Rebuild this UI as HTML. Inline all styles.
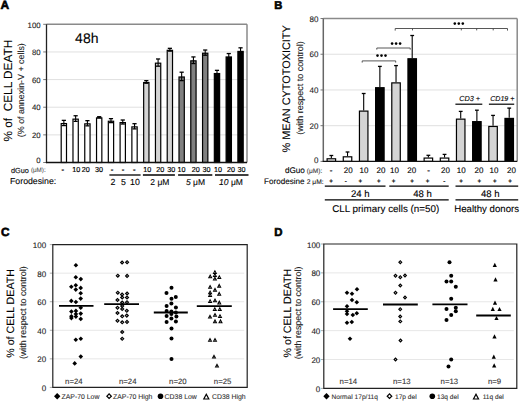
<!DOCTYPE html>
<html><head><meta charset="utf-8"><style>
html,body{margin:0;padding:0;background:#fff;width:520px;height:401px;overflow:hidden}
svg{display:block}
text{font-family:"Liberation Sans", sans-serif;text-rendering:geometricPrecision;}
</style></head><body>
<svg width="520" height="401" viewBox="0 0 520 401" font-family='"Liberation Sans", sans-serif'>
<rect width="520" height="401" fill="#fff"/>
<text x="0.50" y="8.80" font-size="12" text-anchor="start" fill="#000" font-weight="bold" stroke="#000" stroke-width="0.6">A</text>
<text x="274.20" y="8.80" font-size="11.2" text-anchor="start" fill="#000" font-weight="bold" stroke="#000" stroke-width="0.6">B</text>
<text x="1.00" y="236.20" font-size="11.8" text-anchor="start" fill="#000" font-weight="bold" stroke="#000" stroke-width="0.6">C</text>
<text x="274.30" y="236.00" font-size="11.4" text-anchor="start" fill="#000" font-weight="bold" stroke="#000" stroke-width="0.6">D</text>
<line x1="46.50" y1="134.86" x2="247.00" y2="134.86" stroke="#dcdcdc" stroke-width="0.9"/>
<line x1="46.50" y1="107.22" x2="247.00" y2="107.22" stroke="#dcdcdc" stroke-width="0.9"/>
<line x1="46.50" y1="79.58" x2="247.00" y2="79.58" stroke="#dcdcdc" stroke-width="0.9"/>
<line x1="46.50" y1="51.94" x2="247.00" y2="51.94" stroke="#dcdcdc" stroke-width="0.9"/>
<line x1="46.50" y1="24.30" x2="247.00" y2="24.30" stroke="#8a8a8a" stroke-width="1.5"/>
<line x1="247.00" y1="24.30" x2="247.00" y2="162.50" stroke="#8a8a8a" stroke-width="1.5"/>
<line x1="43.20" y1="162.50" x2="46.50" y2="162.50" stroke="#555" stroke-width="0.8"/>
<text x="40.60" y="163.30" font-size="7.8" text-anchor="end" fill="#222" stroke="#222" stroke-width="0.1">0</text>
<line x1="43.20" y1="134.86" x2="46.50" y2="134.86" stroke="#555" stroke-width="0.8"/>
<text x="40.60" y="138.06" font-size="7.8" text-anchor="end" fill="#222" stroke="#222" stroke-width="0.1">20</text>
<line x1="43.20" y1="107.22" x2="46.50" y2="107.22" stroke="#555" stroke-width="0.8"/>
<text x="40.60" y="110.42" font-size="7.8" text-anchor="end" fill="#222" stroke="#222" stroke-width="0.1">40</text>
<line x1="43.20" y1="79.58" x2="46.50" y2="79.58" stroke="#555" stroke-width="0.8"/>
<text x="40.60" y="82.78" font-size="7.8" text-anchor="end" fill="#222" stroke="#222" stroke-width="0.1">60</text>
<line x1="43.20" y1="51.94" x2="46.50" y2="51.94" stroke="#555" stroke-width="0.8"/>
<text x="40.60" y="55.14" font-size="7.8" text-anchor="end" fill="#222" stroke="#222" stroke-width="0.1">80</text>
<line x1="43.20" y1="24.30" x2="46.50" y2="24.30" stroke="#555" stroke-width="0.8"/>
<text x="40.60" y="27.50" font-size="7.8" text-anchor="end" fill="#222" stroke="#222" stroke-width="0.1">100</text>
<rect x="61.20" y="123.57" width="5.30" height="38.93" fill="#fff" stroke="#000" stroke-width="1.2"/>
<line x1="63.85" y1="120.37" x2="63.85" y2="125.57" stroke="#000" stroke-width="1.1"/>
<line x1="61.75" y1="120.37" x2="65.95" y2="120.37" stroke="#000" stroke-width="1.3"/>
<line x1="61.75" y1="125.57" x2="65.95" y2="125.57" stroke="#000" stroke-width="1.3"/>
<rect x="72.98" y="119.15" width="5.30" height="43.35" fill="#fff" stroke="#000" stroke-width="1.2"/>
<line x1="75.63" y1="115.75" x2="75.63" y2="121.35" stroke="#000" stroke-width="1.1"/>
<line x1="73.53" y1="115.75" x2="77.73" y2="115.75" stroke="#000" stroke-width="1.3"/>
<line x1="73.53" y1="121.35" x2="77.73" y2="121.35" stroke="#000" stroke-width="1.3"/>
<rect x="84.76" y="123.85" width="5.30" height="38.65" fill="#fff" stroke="#000" stroke-width="1.2"/>
<line x1="87.41" y1="120.65" x2="87.41" y2="125.85" stroke="#000" stroke-width="1.1"/>
<line x1="85.31" y1="120.65" x2="89.51" y2="120.65" stroke="#000" stroke-width="1.3"/>
<line x1="85.31" y1="125.85" x2="89.51" y2="125.85" stroke="#000" stroke-width="1.3"/>
<rect x="96.54" y="117.91" width="5.30" height="44.59" fill="#fff" stroke="#000" stroke-width="1.2"/>
<line x1="99.19" y1="116.71" x2="99.19" y2="117.91" stroke="#000" stroke-width="1.1"/>
<line x1="97.09" y1="116.71" x2="101.29" y2="116.71" stroke="#000" stroke-width="1.3"/>
<line x1="97.09" y1="117.91" x2="101.29" y2="117.91" stroke="#000" stroke-width="1.3"/>
<rect x="108.32" y="121.23" width="5.30" height="41.27" fill="#fff" stroke="#000" stroke-width="1.2"/>
<line x1="110.97" y1="118.63" x2="110.97" y2="122.63" stroke="#000" stroke-width="1.1"/>
<line x1="108.87" y1="118.63" x2="113.07" y2="118.63" stroke="#000" stroke-width="1.3"/>
<line x1="108.87" y1="122.63" x2="113.07" y2="122.63" stroke="#000" stroke-width="1.3"/>
<rect x="120.10" y="122.61" width="5.30" height="39.89" fill="#fff" stroke="#000" stroke-width="1.2"/>
<line x1="122.75" y1="120.01" x2="122.75" y2="124.01" stroke="#000" stroke-width="1.1"/>
<line x1="120.65" y1="120.01" x2="124.85" y2="120.01" stroke="#000" stroke-width="1.3"/>
<line x1="120.65" y1="124.01" x2="124.85" y2="124.01" stroke="#000" stroke-width="1.3"/>
<rect x="131.88" y="126.89" width="5.30" height="35.61" fill="#fff" stroke="#000" stroke-width="1.2"/>
<line x1="134.53" y1="123.69" x2="134.53" y2="128.89" stroke="#000" stroke-width="1.1"/>
<line x1="132.43" y1="123.69" x2="136.63" y2="123.69" stroke="#000" stroke-width="1.3"/>
<line x1="132.43" y1="128.89" x2="136.63" y2="128.89" stroke="#000" stroke-width="1.3"/>
<rect x="143.66" y="82.53" width="5.30" height="79.97" fill="#d4d4d4" stroke="#000" stroke-width="1.2"/>
<line x1="146.31" y1="80.63" x2="146.31" y2="83.23" stroke="#000" stroke-width="1.1"/>
<line x1="144.21" y1="80.63" x2="148.41" y2="80.63" stroke="#000" stroke-width="1.3"/>
<line x1="144.21" y1="83.23" x2="148.41" y2="83.23" stroke="#000" stroke-width="1.3"/>
<rect x="155.44" y="63.18" width="5.30" height="99.32" fill="#d4d4d4" stroke="#000" stroke-width="1.2"/>
<line x1="158.09" y1="58.98" x2="158.09" y2="66.18" stroke="#000" stroke-width="1.1"/>
<line x1="155.99" y1="58.98" x2="160.19" y2="58.98" stroke="#000" stroke-width="1.3"/>
<line x1="155.99" y1="66.18" x2="160.19" y2="66.18" stroke="#000" stroke-width="1.3"/>
<rect x="167.22" y="50.33" width="5.30" height="112.17" fill="#d4d4d4" stroke="#000" stroke-width="1.2"/>
<line x1="169.87" y1="48.33" x2="169.87" y2="51.13" stroke="#000" stroke-width="1.1"/>
<line x1="167.77" y1="48.33" x2="171.97" y2="48.33" stroke="#000" stroke-width="1.3"/>
<line x1="167.77" y1="51.13" x2="171.97" y2="51.13" stroke="#000" stroke-width="1.3"/>
<rect x="179.00" y="77.00" width="5.30" height="85.50" fill="#808080" stroke="#000" stroke-width="1.2"/>
<line x1="181.65" y1="72.20" x2="181.65" y2="80.60" stroke="#000" stroke-width="1.1"/>
<line x1="179.55" y1="72.20" x2="183.75" y2="72.20" stroke="#000" stroke-width="1.3"/>
<line x1="179.55" y1="80.60" x2="183.75" y2="80.60" stroke="#000" stroke-width="1.3"/>
<rect x="190.78" y="60.83" width="5.30" height="101.67" fill="#808080" stroke="#000" stroke-width="1.2"/>
<line x1="193.43" y1="56.93" x2="193.43" y2="63.53" stroke="#000" stroke-width="1.1"/>
<line x1="191.33" y1="56.93" x2="195.53" y2="56.93" stroke="#000" stroke-width="1.3"/>
<line x1="191.33" y1="63.53" x2="195.53" y2="63.53" stroke="#000" stroke-width="1.3"/>
<rect x="202.56" y="53.23" width="5.30" height="109.27" fill="#808080" stroke="#000" stroke-width="1.2"/>
<line x1="205.21" y1="50.03" x2="205.21" y2="55.23" stroke="#000" stroke-width="1.1"/>
<line x1="203.11" y1="50.03" x2="207.31" y2="50.03" stroke="#000" stroke-width="1.3"/>
<line x1="203.11" y1="55.23" x2="207.31" y2="55.23" stroke="#000" stroke-width="1.3"/>
<rect x="214.34" y="73.55" width="5.30" height="88.95" fill="#000" stroke="#000" stroke-width="1.2"/>
<line x1="216.99" y1="70.35" x2="216.99" y2="75.55" stroke="#000" stroke-width="1.1"/>
<line x1="214.89" y1="70.35" x2="219.09" y2="70.35" stroke="#000" stroke-width="1.3"/>
<line x1="214.89" y1="75.55" x2="219.09" y2="75.55" stroke="#000" stroke-width="1.3"/>
<rect x="226.12" y="56.96" width="5.30" height="105.54" fill="#000" stroke="#000" stroke-width="1.2"/>
<line x1="228.77" y1="53.56" x2="228.77" y2="59.16" stroke="#000" stroke-width="1.1"/>
<line x1="226.67" y1="53.56" x2="230.87" y2="53.56" stroke="#000" stroke-width="1.3"/>
<line x1="226.67" y1="59.16" x2="230.87" y2="59.16" stroke="#000" stroke-width="1.3"/>
<rect x="237.90" y="51.43" width="5.30" height="111.07" fill="#000" stroke="#000" stroke-width="1.2"/>
<line x1="240.55" y1="47.83" x2="240.55" y2="53.83" stroke="#000" stroke-width="1.1"/>
<line x1="238.45" y1="47.83" x2="242.65" y2="47.83" stroke="#000" stroke-width="1.3"/>
<line x1="238.45" y1="53.83" x2="242.65" y2="53.83" stroke="#000" stroke-width="1.3"/>
<line x1="46.50" y1="24.30" x2="46.50" y2="163.10" stroke="#222" stroke-width="1.3"/>
<line x1="45.90" y1="162.50" x2="247.00" y2="162.50" stroke="#111" stroke-width="1.3"/>
<text x="86.80" y="42.90" font-size="14" text-anchor="middle" fill="#000" stroke="#000" stroke-width="0.1">48h</text>
<text x="0.00" y="0.00" font-size="11.8" text-anchor="middle" fill="#000" transform="translate(12.20,90.65) rotate(-90)" stroke="#000" stroke-width="0.1">% of&#160; CELL DEATH</text>
<text x="0.00" y="0.00" font-size="8.9" text-anchor="middle" fill="#222" transform="translate(23.80,90.20) rotate(-90)" stroke="#222" stroke-width="0.1">(% of annexin-V + cells)</text>
<text x="11.00" y="172.50" font-size="7.3" text-anchor="start" fill="#000" stroke="#000" stroke-width="0.1">dGuo</text>
<text x="30.90" y="172.40" font-size="6.3" text-anchor="start" fill="#555" stroke="#555" stroke-width="0.1">(&#956;M):</text>
<text x="10.00" y="184.40" font-size="8.75" text-anchor="start" fill="#000" stroke="#000" stroke-width="0.1">Forodesine:</text>
<text x="62.80" y="171.80" font-size="7.6" text-anchor="middle" fill="#000" stroke="#000" stroke-width="0.35">-</text>
<text x="76.20" y="171.80" font-size="7.2" text-anchor="middle" fill="#000" stroke="#000" stroke-width="0.18">10</text>
<text x="85.70" y="171.80" font-size="7.2" text-anchor="middle" fill="#000" stroke="#000" stroke-width="0.18">20</text>
<text x="99.00" y="171.80" font-size="7.2" text-anchor="middle" fill="#000" stroke="#000" stroke-width="0.18">30</text>
<text x="111.90" y="171.80" font-size="7.6" text-anchor="middle" fill="#000" stroke="#000" stroke-width="0.35">-</text>
<text x="123.10" y="171.80" font-size="7.6" text-anchor="middle" fill="#000" stroke="#000" stroke-width="0.35">-</text>
<text x="134.20" y="171.80" font-size="7.6" text-anchor="middle" fill="#000" stroke="#000" stroke-width="0.35">-</text>
<text x="147.30" y="171.80" font-size="7.2" text-anchor="middle" fill="#000" stroke="#000" stroke-width="0.18">10</text>
<text x="160.20" y="171.80" font-size="7.2" text-anchor="middle" fill="#000" stroke="#000" stroke-width="0.18">20</text>
<text x="171.20" y="171.80" font-size="7.2" text-anchor="middle" fill="#000" stroke="#000" stroke-width="0.18">30</text>
<text x="181.60" y="171.80" font-size="7.2" text-anchor="middle" fill="#000" stroke="#000" stroke-width="0.18">10</text>
<text x="195.80" y="171.80" font-size="7.2" text-anchor="middle" fill="#000" stroke="#000" stroke-width="0.18">20</text>
<text x="206.50" y="171.80" font-size="7.2" text-anchor="middle" fill="#000" stroke="#000" stroke-width="0.18">30</text>
<text x="218.00" y="171.80" font-size="7.2" text-anchor="middle" fill="#000" stroke="#000" stroke-width="0.18">10</text>
<text x="231.00" y="171.80" font-size="7.2" text-anchor="middle" fill="#000" stroke="#000" stroke-width="0.18">20</text>
<text x="241.40" y="171.80" font-size="7.2" text-anchor="middle" fill="#000" stroke="#000" stroke-width="0.18">30</text>
<line x1="109.40" y1="175.00" x2="140.60" y2="175.00" stroke="#000" stroke-width="1.3"/>
<line x1="142.90" y1="175.00" x2="174.90" y2="175.00" stroke="#000" stroke-width="1.3"/>
<line x1="178.10" y1="175.00" x2="212.30" y2="175.00" stroke="#000" stroke-width="1.3"/>
<line x1="215.00" y1="175.00" x2="248.50" y2="175.00" stroke="#000" stroke-width="1.3"/>
<text x="112.90" y="184.60" font-size="8.8" text-anchor="middle" fill="#000" stroke="#000" stroke-width="0.1">2</text>
<text x="123.50" y="184.60" font-size="8.8" text-anchor="middle" fill="#000" stroke="#000" stroke-width="0.1">5</text>
<text x="135.00" y="184.60" font-size="8.8" text-anchor="middle" fill="#000" stroke="#000" stroke-width="0.1">10</text>
<text x="159.90" y="185.20" font-size="8.5" text-anchor="middle" fill="#000" stroke="#000" stroke-width="0.1">2 &#956;M</text>
<text x="195.50" y="185.20" font-size="8.5" text-anchor="middle" fill="#000" stroke="#000" stroke-width="0.1"><tspan font-style="italic">5</tspan> &#956;M</text>
<text x="231.00" y="185.20" font-size="8.5" text-anchor="middle" fill="#000" stroke="#000" stroke-width="0.1"><tspan font-style="italic">10</tspan> &#956;M</text>
<line x1="323.30" y1="125.68" x2="517.20" y2="125.68" stroke="#dcdcdc" stroke-width="0.9"/>
<line x1="323.30" y1="89.96" x2="517.20" y2="89.96" stroke="#dcdcdc" stroke-width="0.9"/>
<line x1="323.30" y1="54.24" x2="517.20" y2="54.24" stroke="#dcdcdc" stroke-width="0.9"/>
<line x1="323.30" y1="18.40" x2="517.20" y2="18.40" stroke="#8a8a8a" stroke-width="1.5"/>
<line x1="517.20" y1="18.40" x2="517.20" y2="161.40" stroke="#8a8a8a" stroke-width="1.5"/>
<line x1="320.50" y1="161.40" x2="323.30" y2="161.40" stroke="#555" stroke-width="0.8"/>
<text x="318.40" y="163.20" font-size="8" text-anchor="end" fill="#222" stroke="#222" stroke-width="0.1">0</text>
<line x1="320.50" y1="125.68" x2="323.30" y2="125.68" stroke="#555" stroke-width="0.8"/>
<text x="318.40" y="128.68" font-size="8" text-anchor="end" fill="#222" stroke="#222" stroke-width="0.1">20</text>
<line x1="320.50" y1="89.96" x2="323.30" y2="89.96" stroke="#555" stroke-width="0.8"/>
<text x="318.40" y="92.96" font-size="8" text-anchor="end" fill="#222" stroke="#222" stroke-width="0.1">40</text>
<line x1="320.50" y1="54.24" x2="323.30" y2="54.24" stroke="#555" stroke-width="0.8"/>
<text x="318.40" y="57.24" font-size="8" text-anchor="end" fill="#222" stroke="#222" stroke-width="0.1">60</text>
<line x1="320.50" y1="18.52" x2="323.30" y2="18.52" stroke="#555" stroke-width="0.8"/>
<text x="318.40" y="21.52" font-size="8" text-anchor="end" fill="#222" stroke="#222" stroke-width="0.1">80</text>
<line x1="331.35" y1="155.50" x2="331.35" y2="158.19" stroke="#000" stroke-width="1.1"/>
<line x1="329.45" y1="155.50" x2="333.25" y2="155.50" stroke="#000" stroke-width="1.3"/>
<rect x="327.10" y="158.79" width="8.50" height="2.61" fill="#fff" stroke="#000" stroke-width="1.2"/>
<line x1="347.52" y1="152.00" x2="347.52" y2="156.22" stroke="#000" stroke-width="1.1"/>
<line x1="345.62" y1="152.00" x2="349.42" y2="152.00" stroke="#000" stroke-width="1.3"/>
<rect x="343.27" y="156.82" width="8.50" height="4.58" fill="#fff" stroke="#000" stroke-width="1.2"/>
<line x1="363.69" y1="93.50" x2="363.69" y2="110.50" stroke="#000" stroke-width="1.1"/>
<line x1="361.79" y1="93.50" x2="365.59" y2="93.50" stroke="#000" stroke-width="1.3"/>
<rect x="359.44" y="111.10" width="8.50" height="50.30" fill="#d4d4d4" stroke="#000" stroke-width="1.2"/>
<line x1="379.86" y1="66.40" x2="379.86" y2="87.10" stroke="#000" stroke-width="1.1"/>
<line x1="377.96" y1="66.40" x2="381.76" y2="66.40" stroke="#000" stroke-width="1.3"/>
<rect x="375.61" y="87.70" width="8.50" height="73.70" fill="#000" stroke="#000" stroke-width="1.2"/>
<line x1="396.03" y1="65.60" x2="396.03" y2="82.28" stroke="#000" stroke-width="1.1"/>
<line x1="394.13" y1="65.60" x2="397.93" y2="65.60" stroke="#000" stroke-width="1.3"/>
<rect x="391.78" y="82.88" width="8.50" height="78.52" fill="#d4d4d4" stroke="#000" stroke-width="1.2"/>
<line x1="412.20" y1="35.50" x2="412.20" y2="58.17" stroke="#000" stroke-width="1.1"/>
<line x1="410.30" y1="35.50" x2="414.10" y2="35.50" stroke="#000" stroke-width="1.3"/>
<rect x="407.95" y="58.77" width="8.50" height="102.63" fill="#000" stroke="#000" stroke-width="1.2"/>
<line x1="428.37" y1="155.30" x2="428.37" y2="157.47" stroke="#000" stroke-width="1.1"/>
<line x1="426.47" y1="155.30" x2="430.27" y2="155.30" stroke="#000" stroke-width="1.3"/>
<rect x="424.12" y="158.07" width="8.50" height="3.33" fill="#fff" stroke="#000" stroke-width="1.2"/>
<line x1="444.54" y1="154.40" x2="444.54" y2="157.47" stroke="#000" stroke-width="1.1"/>
<line x1="442.64" y1="154.40" x2="446.44" y2="154.40" stroke="#000" stroke-width="1.3"/>
<rect x="440.29" y="158.07" width="8.50" height="3.33" fill="#fff" stroke="#000" stroke-width="1.2"/>
<line x1="460.71" y1="111.40" x2="460.71" y2="118.54" stroke="#000" stroke-width="1.1"/>
<line x1="458.81" y1="111.40" x2="462.61" y2="111.40" stroke="#000" stroke-width="1.3"/>
<rect x="456.46" y="119.14" width="8.50" height="42.26" fill="#d4d4d4" stroke="#000" stroke-width="1.2"/>
<line x1="476.88" y1="110.20" x2="476.88" y2="121.04" stroke="#000" stroke-width="1.1"/>
<line x1="474.98" y1="110.20" x2="478.78" y2="110.20" stroke="#000" stroke-width="1.3"/>
<rect x="472.63" y="121.64" width="8.50" height="39.76" fill="#000" stroke="#000" stroke-width="1.2"/>
<line x1="493.05" y1="115.40" x2="493.05" y2="125.86" stroke="#000" stroke-width="1.1"/>
<line x1="491.15" y1="115.40" x2="494.95" y2="115.40" stroke="#000" stroke-width="1.3"/>
<rect x="488.80" y="126.46" width="8.50" height="34.94" fill="#d4d4d4" stroke="#000" stroke-width="1.2"/>
<line x1="509.22" y1="108.10" x2="509.22" y2="117.82" stroke="#000" stroke-width="1.1"/>
<line x1="507.32" y1="108.10" x2="511.12" y2="108.10" stroke="#000" stroke-width="1.3"/>
<rect x="504.97" y="118.42" width="8.50" height="42.98" fill="#000" stroke="#000" stroke-width="1.2"/>
<line x1="323.30" y1="18.40" x2="323.30" y2="162.00" stroke="#666" stroke-width="1.5"/>
<line x1="322.70" y1="161.40" x2="517.20" y2="161.40" stroke="#111" stroke-width="1.3"/>
<path d="M362.2,62.6 V60.9 H395.7 V62.6" fill="none" stroke="#444" stroke-width="0.9"/>
<path d="M376.8,49.6 V48.0 H410.2 V49.6" fill="none" stroke="#444" stroke-width="0.9"/>
<path d="M395.2,30.6 V28.5 H507.5 V30.6 M412.5,28.5 V30.4 M461.3,28.5 V30.4 M476.7,28.5 V30.4 M493.2,28.5 V30.4" fill="none" stroke="#444" stroke-width="0.9"/>
<circle cx="377.50" cy="55.60" r="1.3" fill="#000" stroke="none" stroke-width="0"/>
<circle cx="381.50" cy="55.60" r="1.3" fill="#000" stroke="none" stroke-width="0"/>
<circle cx="385.50" cy="55.60" r="1.3" fill="#000" stroke="none" stroke-width="0"/>
<circle cx="392.10" cy="43.60" r="1.3" fill="#000" stroke="none" stroke-width="0"/>
<circle cx="396.10" cy="43.60" r="1.3" fill="#000" stroke="none" stroke-width="0"/>
<circle cx="400.10" cy="43.60" r="1.3" fill="#000" stroke="none" stroke-width="0"/>
<circle cx="454.80" cy="23.60" r="1.3" fill="#000" stroke="none" stroke-width="0"/>
<circle cx="458.80" cy="23.60" r="1.3" fill="#000" stroke="none" stroke-width="0"/>
<circle cx="462.80" cy="23.60" r="1.3" fill="#000" stroke="none" stroke-width="0"/>
<text x="469.60" y="101.20" font-size="7.3" text-anchor="middle" fill="#000" font-style="italic" stroke="#000" stroke-width="0.1">CD3 +</text>
<text x="502.30" y="101.20" font-size="7.1" text-anchor="middle" fill="#000" font-style="italic" stroke="#000" stroke-width="0.1">CD19 +</text>
<line x1="455.40" y1="104.20" x2="482.30" y2="104.20" stroke="#000" stroke-width="1.2"/>
<line x1="488.90" y1="104.20" x2="514.20" y2="104.20" stroke="#000" stroke-width="1.2"/>
<text x="0.00" y="0.00" font-size="10.9" text-anchor="middle" fill="#000" transform="translate(290.10,88.90) rotate(-90)" stroke="#000" stroke-width="0.1">% MEAN CYTOTOXICITY</text>
<text x="0.00" y="0.00" font-size="9.0" text-anchor="middle" fill="#222" transform="translate(303.20,88.10) rotate(-90)" stroke="#222" stroke-width="0.1">(with respect to control)</text>
<text x="284.90" y="172.80" font-size="8.2" text-anchor="start" fill="#000" stroke="#000" stroke-width="0.1">dGuo</text>
<text x="306.80" y="173.20" font-size="6.6" text-anchor="start" fill="#444" stroke="#444" stroke-width="0.1">(&#956;M):</text>
<text x="264.00" y="183.60" font-size="8.1" text-anchor="start" fill="#000" stroke="#000" stroke-width="0.1">Forodesine</text>
<text x="306.80" y="183.60" font-size="6.7" text-anchor="start" fill="#222" stroke="#222" stroke-width="0.1">2 &#956;M:</text>
<text x="331.20" y="172.60" font-size="8" text-anchor="middle" fill="#000" stroke="#000" stroke-width="0.35">-</text>
<text x="331.10" y="182.75" font-size="6.2" text-anchor="middle" fill="#000" stroke="#000" stroke-width="0.25">+</text>
<text x="348.20" y="172.60" font-size="8" text-anchor="middle" fill="#000" stroke="#000" stroke-width="0.1">20</text>
<text x="345.90" y="182.75" font-size="6.2" text-anchor="middle" fill="#000" stroke="#000" stroke-width="0.25">-</text>
<text x="364.00" y="172.60" font-size="8" text-anchor="middle" fill="#000" stroke="#000" stroke-width="0.1">10</text>
<text x="360.40" y="182.75" font-size="6.2" text-anchor="middle" fill="#000" stroke="#000" stroke-width="0.25">+</text>
<text x="381.00" y="172.60" font-size="8" text-anchor="middle" fill="#000" stroke="#000" stroke-width="0.1">20</text>
<text x="378.70" y="182.75" font-size="6.2" text-anchor="middle" fill="#000" stroke="#000" stroke-width="0.25">+</text>
<text x="394.50" y="172.60" font-size="8" text-anchor="middle" fill="#000" stroke="#000" stroke-width="0.1">10</text>
<text x="393.50" y="182.75" font-size="6.2" text-anchor="middle" fill="#000" stroke="#000" stroke-width="0.25">+</text>
<text x="411.80" y="172.60" font-size="8" text-anchor="middle" fill="#000" stroke="#000" stroke-width="0.1">20</text>
<text x="412.00" y="182.75" font-size="6.2" text-anchor="middle" fill="#000" stroke="#000" stroke-width="0.25">+</text>
<text x="428.70" y="172.60" font-size="8" text-anchor="middle" fill="#000" stroke="#000" stroke-width="0.35">-</text>
<text x="427.50" y="182.75" font-size="6.2" text-anchor="middle" fill="#000" stroke="#000" stroke-width="0.25">+</text>
<text x="445.50" y="172.60" font-size="8" text-anchor="middle" fill="#000" stroke="#000" stroke-width="0.1">20</text>
<text x="444.30" y="182.75" font-size="6.2" text-anchor="middle" fill="#000" stroke="#000" stroke-width="0.25">-</text>
<text x="461.20" y="172.60" font-size="8" text-anchor="middle" fill="#000" stroke="#000" stroke-width="0.1">10</text>
<text x="461.00" y="182.75" font-size="6.2" text-anchor="middle" fill="#000" stroke="#000" stroke-width="0.25">+</text>
<text x="479.00" y="172.60" font-size="8" text-anchor="middle" fill="#000" stroke="#000" stroke-width="0.1">20</text>
<text x="479.20" y="182.75" font-size="6.2" text-anchor="middle" fill="#000" stroke="#000" stroke-width="0.25">+</text>
<text x="494.00" y="172.60" font-size="8" text-anchor="middle" fill="#000" stroke="#000" stroke-width="0.1">10</text>
<text x="494.80" y="182.75" font-size="6.2" text-anchor="middle" fill="#000" stroke="#000" stroke-width="0.25">+</text>
<text x="511.50" y="172.60" font-size="8" text-anchor="middle" fill="#000" stroke="#000" stroke-width="0.1">20</text>
<text x="510.00" y="182.75" font-size="6.2" text-anchor="middle" fill="#000" stroke="#000" stroke-width="0.25">+</text>
<line x1="324.80" y1="186.20" x2="385.50" y2="186.20" stroke="#000" stroke-width="1.3"/>
<line x1="389.30" y1="186.20" x2="448.70" y2="186.20" stroke="#000" stroke-width="1.3"/>
<line x1="455.50" y1="186.20" x2="518.20" y2="186.20" stroke="#000" stroke-width="1.3"/>
<line x1="324.80" y1="199.80" x2="448.70" y2="199.80" stroke="#000" stroke-width="1.3"/>
<line x1="455.50" y1="199.80" x2="518.20" y2="199.80" stroke="#000" stroke-width="1.3"/>
<text x="360.30" y="196.50" font-size="9.6" text-anchor="middle" fill="#000" stroke="#000" stroke-width="0.1">24 h</text>
<text x="422.50" y="196.50" font-size="9.6" text-anchor="middle" fill="#000" stroke="#000" stroke-width="0.1">48 h</text>
<text x="490.30" y="196.50" font-size="9.6" text-anchor="middle" fill="#000" stroke="#000" stroke-width="0.1">48 h</text>
<text x="332.20" y="211.50" font-size="9.85" text-anchor="start" fill="#000" stroke="#000" stroke-width="0.1">CLL primary cells (n=50)</text>
<text x="454.30" y="211.50" font-size="9.65" text-anchor="start" fill="#000" stroke="#000" stroke-width="0.1">Healthy donors</text>
<line x1="52.80" y1="358.84" x2="244.20" y2="358.84" stroke="#e4e4e4" stroke-width="0.9"/>
<line x1="52.80" y1="330.28" x2="244.20" y2="330.28" stroke="#e4e4e4" stroke-width="0.9"/>
<line x1="52.80" y1="301.72" x2="244.20" y2="301.72" stroke="#e4e4e4" stroke-width="0.9"/>
<line x1="52.80" y1="273.16" x2="244.20" y2="273.16" stroke="#e4e4e4" stroke-width="0.9"/>
<line x1="49.80" y1="387.40" x2="52.80" y2="387.40" stroke="#888" stroke-width="0.7"/>
<text x="46.20" y="391.40" font-size="8" text-anchor="end" fill="#222" stroke="#222" stroke-width="0.1">0</text>
<line x1="49.80" y1="358.84" x2="52.80" y2="358.84" stroke="#888" stroke-width="0.7"/>
<text x="46.20" y="362.34" font-size="8" text-anchor="end" fill="#222" stroke="#222" stroke-width="0.1">20</text>
<line x1="49.80" y1="330.28" x2="52.80" y2="330.28" stroke="#888" stroke-width="0.7"/>
<text x="46.20" y="333.78" font-size="8" text-anchor="end" fill="#222" stroke="#222" stroke-width="0.1">40</text>
<line x1="49.80" y1="301.72" x2="52.80" y2="301.72" stroke="#888" stroke-width="0.7"/>
<text x="46.20" y="305.22" font-size="8" text-anchor="end" fill="#222" stroke="#222" stroke-width="0.1">60</text>
<line x1="49.80" y1="273.16" x2="52.80" y2="273.16" stroke="#888" stroke-width="0.7"/>
<text x="46.20" y="276.66" font-size="8" text-anchor="end" fill="#222" stroke="#222" stroke-width="0.1">80</text>
<line x1="49.80" y1="244.60" x2="52.80" y2="244.60" stroke="#888" stroke-width="0.7"/>
<text x="46.20" y="248.10" font-size="8" text-anchor="end" fill="#222" stroke="#222" stroke-width="0.1">100</text>
<path d="M52.80,244.60 H247.20 V387.40 H52.80 Z" fill="none" stroke="#222" stroke-width="1.2"/>
<path d="M75.90,262.90 L78.20,265.20 L75.90,267.50 L73.60,265.20 Z" fill="#000" stroke="none" stroke-width="0"/>
<path d="M75.80,274.90 L78.10,277.20 L75.80,279.50 L73.50,277.20 Z" fill="#000" stroke="none" stroke-width="0"/>
<path d="M80.80,276.80 L83.10,279.10 L80.80,281.40 L78.50,279.10 Z" fill="#000" stroke="none" stroke-width="0"/>
<path d="M75.80,283.00 L78.10,285.30 L75.80,287.60 L73.50,285.30 Z" fill="#000" stroke="none" stroke-width="0"/>
<path d="M71.30,284.50 L73.60,286.80 L71.30,289.10 L69.00,286.80 Z" fill="#000" stroke="none" stroke-width="0"/>
<path d="M80.70,285.60 L83.00,287.90 L80.70,290.20 L78.40,287.90 Z" fill="#000" stroke="none" stroke-width="0"/>
<path d="M75.80,287.30 L78.10,289.60 L75.80,291.90 L73.50,289.60 Z" fill="#000" stroke="none" stroke-width="0"/>
<path d="M80.70,291.00 L83.00,293.30 L80.70,295.60 L78.40,293.30 Z" fill="#000" stroke="none" stroke-width="0"/>
<path d="M80.70,296.30 L83.00,298.60 L80.70,300.90 L78.40,298.60 Z" fill="#000" stroke="none" stroke-width="0"/>
<path d="M71.30,298.60 L73.60,300.90 L71.30,303.20 L69.00,300.90 Z" fill="#000" stroke="none" stroke-width="0"/>
<path d="M75.90,299.70 L78.20,302.00 L75.90,304.30 L73.60,302.00 Z" fill="#000" stroke="none" stroke-width="0"/>
<path d="M80.75,305.50 L83.05,307.80 L80.75,310.10 L78.45,307.80 Z" fill="#000" stroke="none" stroke-width="0"/>
<path d="M71.40,309.30 L73.70,311.60 L71.40,313.90 L69.10,311.60 Z" fill="#000" stroke="none" stroke-width="0"/>
<path d="M75.90,308.60 L78.20,310.90 L75.90,313.20 L73.60,310.90 Z" fill="#000" stroke="none" stroke-width="0"/>
<path d="M75.90,311.70 L78.20,314.00 L75.90,316.30 L73.60,314.00 Z" fill="#000" stroke="none" stroke-width="0"/>
<path d="M75.90,314.30 L78.20,316.60 L75.90,318.90 L73.60,316.60 Z" fill="#000" stroke="none" stroke-width="0"/>
<path d="M80.75,311.30 L83.05,313.60 L80.75,315.90 L78.45,313.60 Z" fill="#000" stroke="none" stroke-width="0"/>
<path d="M71.40,314.00 L73.70,316.30 L71.40,318.60 L69.10,316.30 Z" fill="#000" stroke="none" stroke-width="0"/>
<path d="M71.40,315.80 L73.70,318.10 L71.40,320.40 L69.10,318.10 Z" fill="#000" stroke="none" stroke-width="0"/>
<path d="M80.75,316.60 L83.05,318.90 L80.75,321.20 L78.45,318.90 Z" fill="#000" stroke="none" stroke-width="0"/>
<path d="M75.80,337.40 L78.10,339.70 L75.80,342.00 L73.50,339.70 Z" fill="#000" stroke="none" stroke-width="0"/>
<path d="M80.80,336.40 L83.10,338.70 L80.80,341.00 L78.50,338.70 Z" fill="#000" stroke="none" stroke-width="0"/>
<path d="M80.80,354.30 L83.10,356.60 L80.80,358.90 L78.50,356.60 Z" fill="#000" stroke="none" stroke-width="0"/>
<path d="M74.70,361.10 L77.00,363.40 L74.70,365.70 L72.40,363.40 Z" fill="#000" stroke="none" stroke-width="0"/>
<path d="M122.10,260.20 L124.40,262.50 L122.10,264.80 L119.80,262.50 Z" fill="#000" stroke="none" stroke-width="0"/>
<path d="M122.10,261.90 L122.70,262.50 L122.10,263.10 L121.50,262.50 Z" fill="#fff" stroke="none" stroke-width="0"/>
<path d="M127.10,259.90 L129.40,262.20 L127.10,264.50 L124.80,262.20 Z" fill="#000" stroke="none" stroke-width="0"/>
<path d="M127.10,261.60 L127.70,262.20 L127.10,262.80 L126.50,262.20 Z" fill="#fff" stroke="none" stroke-width="0"/>
<path d="M117.80,273.40 L120.10,275.70 L117.80,278.00 L115.50,275.70 Z" fill="#000" stroke="none" stroke-width="0"/>
<path d="M117.80,275.10 L118.40,275.70 L117.80,276.30 L117.20,275.70 Z" fill="#fff" stroke="none" stroke-width="0"/>
<path d="M127.10,273.60 L129.40,275.90 L127.10,278.20 L124.80,275.90 Z" fill="#000" stroke="none" stroke-width="0"/>
<path d="M127.10,275.30 L127.70,275.90 L127.10,276.50 L126.50,275.90 Z" fill="#fff" stroke="none" stroke-width="0"/>
<path d="M117.80,290.40 L120.10,292.70 L117.80,295.00 L115.50,292.70 Z" fill="#000" stroke="none" stroke-width="0"/>
<path d="M117.80,292.10 L118.40,292.70 L117.80,293.30 L117.20,292.70 Z" fill="#fff" stroke="none" stroke-width="0"/>
<path d="M122.10,292.30 L124.40,294.60 L122.10,296.90 L119.80,294.60 Z" fill="#000" stroke="none" stroke-width="0"/>
<path d="M122.10,294.00 L122.70,294.60 L122.10,295.20 L121.50,294.60 Z" fill="#fff" stroke="none" stroke-width="0"/>
<path d="M127.10,291.20 L129.40,293.50 L127.10,295.80 L124.80,293.50 Z" fill="#000" stroke="none" stroke-width="0"/>
<path d="M127.10,292.90 L127.70,293.50 L127.10,294.10 L126.50,293.50 Z" fill="#fff" stroke="none" stroke-width="0"/>
<path d="M122.20,295.20 L124.50,297.50 L122.20,299.80 L119.90,297.50 Z" fill="#000" stroke="none" stroke-width="0"/>
<path d="M122.20,296.90 L122.80,297.50 L122.20,298.10 L121.60,297.50 Z" fill="#fff" stroke="none" stroke-width="0"/>
<path d="M127.00,295.20 L129.30,297.50 L127.00,299.80 L124.70,297.50 Z" fill="#000" stroke="none" stroke-width="0"/>
<path d="M127.00,296.90 L127.60,297.50 L127.00,298.10 L126.40,297.50 Z" fill="#fff" stroke="none" stroke-width="0"/>
<path d="M117.50,297.70 L119.80,300.00 L117.50,302.30 L115.20,300.00 Z" fill="#000" stroke="none" stroke-width="0"/>
<path d="M117.50,299.40 L118.10,300.00 L117.50,300.60 L116.90,300.00 Z" fill="#fff" stroke="none" stroke-width="0"/>
<path d="M122.20,300.20 L124.50,302.50 L122.20,304.80 L119.90,302.50 Z" fill="#000" stroke="none" stroke-width="0"/>
<path d="M122.20,301.90 L122.80,302.50 L122.20,303.10 L121.60,302.50 Z" fill="#fff" stroke="none" stroke-width="0"/>
<path d="M127.00,299.90 L129.30,302.20 L127.00,304.50 L124.70,302.20 Z" fill="#000" stroke="none" stroke-width="0"/>
<path d="M127.00,301.60 L127.60,302.20 L127.00,302.80 L126.40,302.20 Z" fill="#fff" stroke="none" stroke-width="0"/>
<path d="M122.20,303.70 L124.50,306.00 L122.20,308.30 L119.90,306.00 Z" fill="#000" stroke="none" stroke-width="0"/>
<path d="M122.20,305.40 L122.80,306.00 L122.20,306.60 L121.60,306.00 Z" fill="#fff" stroke="none" stroke-width="0"/>
<path d="M117.50,305.50 L119.80,307.80 L117.50,310.10 L115.20,307.80 Z" fill="#000" stroke="none" stroke-width="0"/>
<path d="M117.50,307.20 L118.10,307.80 L117.50,308.40 L116.90,307.80 Z" fill="#fff" stroke="none" stroke-width="0"/>
<path d="M122.20,306.70 L124.50,309.00 L122.20,311.30 L119.90,309.00 Z" fill="#000" stroke="none" stroke-width="0"/>
<path d="M122.20,308.40 L122.80,309.00 L122.20,309.60 L121.60,309.00 Z" fill="#fff" stroke="none" stroke-width="0"/>
<path d="M126.80,308.50 L129.10,310.80 L126.80,313.10 L124.50,310.80 Z" fill="#000" stroke="none" stroke-width="0"/>
<path d="M126.80,310.20 L127.40,310.80 L126.80,311.40 L126.20,310.80 Z" fill="#fff" stroke="none" stroke-width="0"/>
<path d="M117.50,310.70 L119.80,313.00 L117.50,315.30 L115.20,313.00 Z" fill="#000" stroke="none" stroke-width="0"/>
<path d="M117.50,312.40 L118.10,313.00 L117.50,313.60 L116.90,313.00 Z" fill="#fff" stroke="none" stroke-width="0"/>
<path d="M122.20,314.00 L124.50,316.30 L122.20,318.60 L119.90,316.30 Z" fill="#000" stroke="none" stroke-width="0"/>
<path d="M122.20,315.70 L122.80,316.30 L122.20,316.90 L121.60,316.30 Z" fill="#fff" stroke="none" stroke-width="0"/>
<path d="M126.80,313.30 L129.10,315.60 L126.80,317.90 L124.50,315.60 Z" fill="#000" stroke="none" stroke-width="0"/>
<path d="M126.80,315.00 L127.40,315.60 L126.80,316.20 L126.20,315.60 Z" fill="#fff" stroke="none" stroke-width="0"/>
<path d="M117.50,318.50 L119.80,320.80 L117.50,323.10 L115.20,320.80 Z" fill="#000" stroke="none" stroke-width="0"/>
<path d="M117.50,320.20 L118.10,320.80 L117.50,321.40 L116.90,320.80 Z" fill="#fff" stroke="none" stroke-width="0"/>
<path d="M122.20,320.00 L124.50,322.30 L122.20,324.60 L119.90,322.30 Z" fill="#000" stroke="none" stroke-width="0"/>
<path d="M122.20,321.70 L122.80,322.30 L122.20,322.90 L121.60,322.30 Z" fill="#fff" stroke="none" stroke-width="0"/>
<path d="M127.00,319.60 L129.30,321.90 L127.00,324.20 L124.70,321.90 Z" fill="#000" stroke="none" stroke-width="0"/>
<path d="M127.00,321.30 L127.60,321.90 L127.00,322.50 L126.40,321.90 Z" fill="#fff" stroke="none" stroke-width="0"/>
<path d="M122.20,329.70 L124.50,332.00 L122.20,334.30 L119.90,332.00 Z" fill="#000" stroke="none" stroke-width="0"/>
<path d="M122.20,331.40 L122.80,332.00 L122.20,332.60 L121.60,332.00 Z" fill="#fff" stroke="none" stroke-width="0"/>
<path d="M122.20,336.50 L124.50,338.80 L122.20,341.10 L119.90,338.80 Z" fill="#000" stroke="none" stroke-width="0"/>
<path d="M122.20,338.20 L122.80,338.80 L122.20,339.40 L121.60,338.80 Z" fill="#fff" stroke="none" stroke-width="0"/>
<circle cx="171.50" cy="287.80" r="2.0" fill="#000" stroke="none" stroke-width="0"/>
<circle cx="166.50" cy="293.00" r="2.0" fill="#000" stroke="none" stroke-width="0"/>
<circle cx="175.80" cy="297.00" r="2.0" fill="#000" stroke="none" stroke-width="0"/>
<circle cx="171.50" cy="298.80" r="2.0" fill="#000" stroke="none" stroke-width="0"/>
<circle cx="171.40" cy="303.60" r="2.0" fill="#000" stroke="none" stroke-width="0"/>
<circle cx="166.60" cy="306.10" r="2.0" fill="#000" stroke="none" stroke-width="0"/>
<circle cx="175.90" cy="307.50" r="2.0" fill="#000" stroke="none" stroke-width="0"/>
<circle cx="166.60" cy="310.90" r="2.0" fill="#000" stroke="none" stroke-width="0"/>
<circle cx="171.40" cy="311.60" r="2.0" fill="#000" stroke="none" stroke-width="0"/>
<circle cx="171.40" cy="314.00" r="2.0" fill="#000" stroke="none" stroke-width="0"/>
<circle cx="175.90" cy="312.40" r="2.0" fill="#000" stroke="none" stroke-width="0"/>
<circle cx="166.60" cy="316.10" r="2.0" fill="#000" stroke="none" stroke-width="0"/>
<circle cx="176.40" cy="316.60" r="2.0" fill="#000" stroke="none" stroke-width="0"/>
<circle cx="171.40" cy="318.60" r="2.0" fill="#000" stroke="none" stroke-width="0"/>
<circle cx="166.60" cy="322.00" r="2.0" fill="#000" stroke="none" stroke-width="0"/>
<circle cx="175.90" cy="321.60" r="2.0" fill="#000" stroke="none" stroke-width="0"/>
<circle cx="171.50" cy="328.50" r="2.0" fill="#000" stroke="none" stroke-width="0"/>
<circle cx="171.50" cy="338.50" r="2.0" fill="#000" stroke="none" stroke-width="0"/>
<circle cx="171.50" cy="359.00" r="2.0" fill="#000" stroke="none" stroke-width="0"/>
<path d="M214.90,269.63 L217.20,274.07 L212.60,274.07 Z" fill="#000" stroke="none" stroke-width="0"/>
<path d="M214.90,272.03 L215.45,273.02 L214.35,273.02 Z" fill="#fff" stroke="none" stroke-width="0"/>
<path d="M214.90,272.63 L217.20,277.07 L212.60,277.07 Z" fill="#000" stroke="none" stroke-width="0"/>
<path d="M214.90,275.03 L215.45,276.02 L214.35,276.02 Z" fill="#fff" stroke="none" stroke-width="0"/>
<path d="M214.90,276.13 L217.20,280.57 L212.60,280.57 Z" fill="#000" stroke="none" stroke-width="0"/>
<path d="M214.90,278.53 L215.45,279.52 L214.35,279.52 Z" fill="#fff" stroke="none" stroke-width="0"/>
<path d="M210.20,273.93 L212.50,278.37 L207.90,278.37 Z" fill="#000" stroke="none" stroke-width="0"/>
<path d="M210.20,276.33 L210.75,277.32 L209.65,277.32 Z" fill="#fff" stroke="none" stroke-width="0"/>
<path d="M219.30,274.63 L221.60,279.07 L217.00,279.07 Z" fill="#000" stroke="none" stroke-width="0"/>
<path d="M219.30,277.03 L219.85,278.02 L218.75,278.02 Z" fill="#fff" stroke="none" stroke-width="0"/>
<path d="M219.20,283.23 L221.50,287.67 L216.90,287.67 Z" fill="#000" stroke="none" stroke-width="0"/>
<path d="M219.20,285.63 L219.75,286.62 L218.65,286.62 Z" fill="#fff" stroke="none" stroke-width="0"/>
<path d="M210.10,284.43 L212.40,288.87 L207.80,288.87 Z" fill="#000" stroke="none" stroke-width="0"/>
<path d="M210.10,286.83 L210.65,287.82 L209.55,287.82 Z" fill="#fff" stroke="none" stroke-width="0"/>
<path d="M215.00,287.33 L217.30,291.77 L212.70,291.77 Z" fill="#000" stroke="none" stroke-width="0"/>
<path d="M215.00,289.73 L215.55,290.72 L214.45,290.72 Z" fill="#fff" stroke="none" stroke-width="0"/>
<path d="M210.10,289.93 L212.40,294.37 L207.80,294.37 Z" fill="#000" stroke="none" stroke-width="0"/>
<path d="M210.10,292.33 L210.65,293.32 L209.55,293.32 Z" fill="#fff" stroke="none" stroke-width="0"/>
<path d="M210.10,292.63 L212.40,297.07 L207.80,297.07 Z" fill="#000" stroke="none" stroke-width="0"/>
<path d="M210.10,295.03 L210.65,296.02 L209.55,296.02 Z" fill="#fff" stroke="none" stroke-width="0"/>
<path d="M219.20,291.33 L221.50,295.77 L216.90,295.77 Z" fill="#000" stroke="none" stroke-width="0"/>
<path d="M219.20,293.73 L219.75,294.72 L218.65,294.72 Z" fill="#fff" stroke="none" stroke-width="0"/>
<path d="M210.10,298.63 L212.40,303.07 L207.80,303.07 Z" fill="#000" stroke="none" stroke-width="0"/>
<path d="M210.10,301.03 L210.65,302.02 L209.55,302.02 Z" fill="#fff" stroke="none" stroke-width="0"/>
<path d="M215.00,297.93 L217.30,302.37 L212.70,302.37 Z" fill="#000" stroke="none" stroke-width="0"/>
<path d="M215.00,300.33 L215.55,301.32 L214.45,301.32 Z" fill="#fff" stroke="none" stroke-width="0"/>
<path d="M219.30,300.03 L221.60,304.47 L217.00,304.47 Z" fill="#000" stroke="none" stroke-width="0"/>
<path d="M219.30,302.43 L219.85,303.42 L218.75,303.42 Z" fill="#fff" stroke="none" stroke-width="0"/>
<path d="M214.80,306.63 L217.10,311.07 L212.50,311.07 Z" fill="#000" stroke="none" stroke-width="0"/>
<path d="M214.80,309.03 L215.35,310.02 L214.25,310.02 Z" fill="#fff" stroke="none" stroke-width="0"/>
<path d="M219.80,306.63 L222.10,311.07 L217.50,311.07 Z" fill="#000" stroke="none" stroke-width="0"/>
<path d="M219.80,309.03 L220.35,310.02 L219.25,310.02 Z" fill="#fff" stroke="none" stroke-width="0"/>
<path d="M210.00,314.13 L212.30,318.57 L207.70,318.57 Z" fill="#000" stroke="none" stroke-width="0"/>
<path d="M210.00,316.53 L210.55,317.52 L209.45,317.52 Z" fill="#fff" stroke="none" stroke-width="0"/>
<path d="M215.00,312.43 L217.30,316.87 L212.70,316.87 Z" fill="#000" stroke="none" stroke-width="0"/>
<path d="M215.00,314.83 L215.55,315.82 L214.45,315.82 Z" fill="#fff" stroke="none" stroke-width="0"/>
<path d="M220.00,313.63 L222.30,318.07 L217.70,318.07 Z" fill="#000" stroke="none" stroke-width="0"/>
<path d="M220.00,316.03 L220.55,317.02 L219.45,317.02 Z" fill="#fff" stroke="none" stroke-width="0"/>
<path d="M215.00,318.83 L217.30,323.27 L212.70,323.27 Z" fill="#000" stroke="none" stroke-width="0"/>
<path d="M215.00,321.23 L215.55,322.22 L214.45,322.22 Z" fill="#fff" stroke="none" stroke-width="0"/>
<path d="M220.50,318.83 L222.80,323.27 L218.20,323.27 Z" fill="#000" stroke="none" stroke-width="0"/>
<path d="M220.50,321.23 L221.05,322.22 L219.95,322.22 Z" fill="#fff" stroke="none" stroke-width="0"/>
<path d="M210.00,337.43 L212.30,341.87 L207.70,341.87 Z" fill="#000" stroke="none" stroke-width="0"/>
<path d="M210.00,339.83 L210.55,340.82 L209.45,340.82 Z" fill="#fff" stroke="none" stroke-width="0"/>
<path d="M215.00,337.43 L217.30,341.87 L212.70,341.87 Z" fill="#000" stroke="none" stroke-width="0"/>
<path d="M215.00,339.83 L215.55,340.82 L214.45,340.82 Z" fill="#fff" stroke="none" stroke-width="0"/>
<path d="M214.00,354.13 L216.30,358.57 L211.70,358.57 Z" fill="#000" stroke="none" stroke-width="0"/>
<path d="M214.00,356.53 L214.55,357.52 L213.45,357.52 Z" fill="#fff" stroke="none" stroke-width="0"/>
<path d="M217.00,363.13 L219.30,367.57 L214.70,367.57 Z" fill="#000" stroke="none" stroke-width="0"/>
<path d="M217.00,365.53 L217.55,366.52 L216.45,366.52 Z" fill="#fff" stroke="none" stroke-width="0"/>
<line x1="59.00" y1="305.90" x2="93.50" y2="305.90" stroke="#000" stroke-width="1.8"/>
<line x1="104.20" y1="304.20" x2="139.00" y2="304.20" stroke="#000" stroke-width="1.8"/>
<line x1="153.80" y1="312.50" x2="187.80" y2="312.50" stroke="#000" stroke-width="1.8"/>
<line x1="196.80" y1="306.20" x2="231.80" y2="306.20" stroke="#000" stroke-width="1.8"/>
<text x="73.90" y="383.80" font-size="7.8" text-anchor="middle" fill="#333" stroke="#333" stroke-width="0.1">n=24</text>
<text x="127.70" y="383.80" font-size="7.8" text-anchor="middle" fill="#333" stroke="#333" stroke-width="0.1">n=24</text>
<text x="177.90" y="383.80" font-size="7.8" text-anchor="middle" fill="#333" stroke="#333" stroke-width="0.1">n=20</text>
<text x="222.60" y="383.80" font-size="7.8" text-anchor="middle" fill="#333" stroke="#333" stroke-width="0.1">n=25</text>
<text x="0.00" y="0.00" font-size="10.63" text-anchor="middle" fill="#000" transform="translate(13.70,313.45) rotate(-90)" stroke="#000" stroke-width="0.1">% of CELL DEATH</text>
<text x="0.00" y="0.00" font-size="8.94" text-anchor="middle" fill="#222" transform="translate(26.20,312.70) rotate(-90)" stroke="#222" stroke-width="0.1">(with respect to control)</text>
<path d="M57.20,393.00 L60.40,396.20 L57.20,399.40 L54.00,396.20 Z" fill="#000" stroke="none" stroke-width="0"/>
<text x="61.50" y="398.60" font-size="6.9" text-anchor="start" fill="#333" stroke="#333" stroke-width="0.1">ZAP-70 Low</text>
<path d="M109.10,393.10 L112.20,396.20 L109.10,399.30 L106.00,396.20 Z" fill="#000" stroke="none" stroke-width="0"/>
<path d="M109.10,394.80 L110.50,396.20 L109.10,397.60 L107.70,396.20 Z" fill="#fff" stroke="none" stroke-width="0"/>
<text x="113.00" y="398.60" font-size="6.9" text-anchor="start" fill="#333" stroke="#333" stroke-width="0.1">ZAP-70 High</text>
<circle cx="160.50" cy="396.20" r="2.8" fill="#000" stroke="none" stroke-width="0"/>
<text x="164.60" y="398.60" font-size="6.9" text-anchor="start" fill="#333" stroke="#333" stroke-width="0.1">CD38 Low</text>
<path d="M206.30,392.95 L209.80,399.55 L202.80,399.55 Z" fill="#000" stroke="none" stroke-width="0"/>
<path d="M206.30,395.56 L207.88,398.39 L204.73,398.39 Z" fill="#fff" stroke="none" stroke-width="0"/>
<text x="212.00" y="398.60" font-size="6.9" text-anchor="start" fill="#333" stroke="#333" stroke-width="0.1">CD38 High</text>
<line x1="323.80" y1="359.52" x2="513.80" y2="359.52" stroke="#e4e4e4" stroke-width="0.9"/>
<line x1="323.80" y1="330.64" x2="513.80" y2="330.64" stroke="#e4e4e4" stroke-width="0.9"/>
<line x1="323.80" y1="301.76" x2="513.80" y2="301.76" stroke="#e4e4e4" stroke-width="0.9"/>
<line x1="323.80" y1="272.88" x2="513.80" y2="272.88" stroke="#e4e4e4" stroke-width="0.9"/>
<line x1="320.80" y1="388.40" x2="323.80" y2="388.40" stroke="#888" stroke-width="0.7"/>
<text x="320.30" y="392.40" font-size="8" text-anchor="end" fill="#222" stroke="#222" stroke-width="0.1">0</text>
<line x1="320.80" y1="359.52" x2="323.80" y2="359.52" stroke="#888" stroke-width="0.7"/>
<text x="320.30" y="363.02" font-size="8" text-anchor="end" fill="#222" stroke="#222" stroke-width="0.1">20</text>
<line x1="320.80" y1="330.64" x2="323.80" y2="330.64" stroke="#888" stroke-width="0.7"/>
<text x="320.30" y="334.14" font-size="8" text-anchor="end" fill="#222" stroke="#222" stroke-width="0.1">40</text>
<line x1="320.80" y1="301.76" x2="323.80" y2="301.76" stroke="#888" stroke-width="0.7"/>
<text x="320.30" y="305.26" font-size="8" text-anchor="end" fill="#222" stroke="#222" stroke-width="0.1">60</text>
<line x1="320.80" y1="272.88" x2="323.80" y2="272.88" stroke="#888" stroke-width="0.7"/>
<text x="320.30" y="276.38" font-size="8" text-anchor="end" fill="#222" stroke="#222" stroke-width="0.1">80</text>
<line x1="320.80" y1="244.00" x2="323.80" y2="244.00" stroke="#888" stroke-width="0.7"/>
<text x="320.30" y="247.50" font-size="8" text-anchor="end" fill="#222" stroke="#222" stroke-width="0.1">100</text>
<path d="M323.80,244.00 H516.80 V388.40 H323.80 Z" fill="none" stroke="#222" stroke-width="1.2"/>
<path d="M357.00,286.90 L359.30,289.20 L357.00,291.50 L354.70,289.20 Z" fill="#000" stroke="none" stroke-width="0"/>
<path d="M347.00,290.50 L349.30,292.80 L347.00,295.10 L344.70,292.80 Z" fill="#000" stroke="none" stroke-width="0"/>
<path d="M352.00,291.50 L354.30,293.80 L352.00,296.10 L349.70,293.80 Z" fill="#000" stroke="none" stroke-width="0"/>
<path d="M352.00,297.70 L354.30,300.00 L352.00,302.30 L349.70,300.00 Z" fill="#000" stroke="none" stroke-width="0"/>
<path d="M356.80,299.90 L359.10,302.20 L356.80,304.50 L354.50,302.20 Z" fill="#000" stroke="none" stroke-width="0"/>
<path d="M347.00,303.90 L349.30,306.20 L347.00,308.50 L344.70,306.20 Z" fill="#000" stroke="none" stroke-width="0"/>
<path d="M347.00,309.00 L349.30,311.30 L347.00,313.60 L344.70,311.30 Z" fill="#000" stroke="none" stroke-width="0"/>
<path d="M347.00,311.70 L349.30,314.00 L347.00,316.30 L344.70,314.00 Z" fill="#000" stroke="none" stroke-width="0"/>
<path d="M352.80,312.70 L355.10,315.00 L352.80,317.30 L350.50,315.00 Z" fill="#000" stroke="none" stroke-width="0"/>
<path d="M356.80,310.90 L359.10,313.20 L356.80,315.50 L354.50,313.20 Z" fill="#000" stroke="none" stroke-width="0"/>
<path d="M347.00,320.50 L349.30,322.80 L347.00,325.10 L344.70,322.80 Z" fill="#000" stroke="none" stroke-width="0"/>
<path d="M351.80,319.70 L354.10,322.00 L351.80,324.30 L349.50,322.00 Z" fill="#000" stroke="none" stroke-width="0"/>
<path d="M350.00,336.40 L352.30,338.70 L350.00,341.00 L347.70,338.70 Z" fill="#000" stroke="none" stroke-width="0"/>
<path d="M400.30,260.00 L402.50,262.20 L400.30,264.40 L398.10,262.20 Z" fill="#000" stroke="none" stroke-width="0"/>
<path d="M400.30,261.60 L400.90,262.20 L400.30,262.80 L399.70,262.20 Z" fill="#fff" stroke="none" stroke-width="0"/>
<path d="M395.50,273.60 L397.70,275.80 L395.50,278.00 L393.30,275.80 Z" fill="#000" stroke="none" stroke-width="0"/>
<path d="M395.50,275.20 L396.10,275.80 L395.50,276.40 L394.90,275.80 Z" fill="#fff" stroke="none" stroke-width="0"/>
<path d="M400.30,275.00 L402.50,277.20 L400.30,279.40 L398.10,277.20 Z" fill="#000" stroke="none" stroke-width="0"/>
<path d="M400.30,276.60 L400.90,277.20 L400.30,277.80 L399.70,277.20 Z" fill="#fff" stroke="none" stroke-width="0"/>
<path d="M405.00,273.30 L407.20,275.50 L405.00,277.70 L402.80,275.50 Z" fill="#000" stroke="none" stroke-width="0"/>
<path d="M405.00,274.90 L405.60,275.50 L405.00,276.10 L404.40,275.50 Z" fill="#fff" stroke="none" stroke-width="0"/>
<path d="M400.30,283.30 L402.50,285.50 L400.30,287.70 L398.10,285.50 Z" fill="#000" stroke="none" stroke-width="0"/>
<path d="M400.30,284.90 L400.90,285.50 L400.30,286.10 L399.70,285.50 Z" fill="#fff" stroke="none" stroke-width="0"/>
<path d="M395.50,290.60 L397.70,292.80 L395.50,295.00 L393.30,292.80 Z" fill="#000" stroke="none" stroke-width="0"/>
<path d="M395.50,292.20 L396.10,292.80 L395.50,293.40 L394.90,292.80 Z" fill="#fff" stroke="none" stroke-width="0"/>
<path d="M405.00,295.30 L407.20,297.50 L405.00,299.70 L402.80,297.50 Z" fill="#000" stroke="none" stroke-width="0"/>
<path d="M405.00,296.90 L405.60,297.50 L405.00,298.10 L404.40,297.50 Z" fill="#fff" stroke="none" stroke-width="0"/>
<path d="M400.20,307.00 L402.40,309.20 L400.20,311.40 L398.00,309.20 Z" fill="#000" stroke="none" stroke-width="0"/>
<path d="M400.20,308.60 L400.80,309.20 L400.20,309.80 L399.60,309.20 Z" fill="#fff" stroke="none" stroke-width="0"/>
<path d="M400.20,314.30 L402.40,316.50 L400.20,318.70 L398.00,316.50 Z" fill="#000" stroke="none" stroke-width="0"/>
<path d="M400.20,315.90 L400.80,316.50 L400.20,317.10 L399.60,316.50 Z" fill="#fff" stroke="none" stroke-width="0"/>
<path d="M400.30,319.20 L402.50,321.40 L400.30,323.60 L398.10,321.40 Z" fill="#000" stroke="none" stroke-width="0"/>
<path d="M400.30,320.80 L400.90,321.40 L400.30,322.00 L399.70,321.40 Z" fill="#fff" stroke="none" stroke-width="0"/>
<path d="M400.50,338.30 L402.70,340.50 L400.50,342.70 L398.30,340.50 Z" fill="#000" stroke="none" stroke-width="0"/>
<path d="M400.50,339.90 L401.10,340.50 L400.50,341.10 L399.90,340.50 Z" fill="#fff" stroke="none" stroke-width="0"/>
<path d="M395.50,357.30 L397.70,359.50 L395.50,361.70 L393.30,359.50 Z" fill="#000" stroke="none" stroke-width="0"/>
<path d="M395.50,358.90 L396.10,359.50 L395.50,360.10 L394.90,359.50 Z" fill="#fff" stroke="none" stroke-width="0"/>
<circle cx="449.50" cy="262.20" r="2.0" fill="#000" stroke="none" stroke-width="0"/>
<circle cx="451.20" cy="275.80" r="2.0" fill="#000" stroke="none" stroke-width="0"/>
<circle cx="446.50" cy="281.50" r="2.0" fill="#000" stroke="none" stroke-width="0"/>
<circle cx="451.20" cy="281.50" r="2.0" fill="#000" stroke="none" stroke-width="0"/>
<circle cx="455.80" cy="286.80" r="2.0" fill="#000" stroke="none" stroke-width="0"/>
<circle cx="451.20" cy="298.80" r="2.0" fill="#000" stroke="none" stroke-width="0"/>
<circle cx="446.50" cy="309.00" r="2.0" fill="#000" stroke="none" stroke-width="0"/>
<circle cx="455.80" cy="307.80" r="2.0" fill="#000" stroke="none" stroke-width="0"/>
<circle cx="455.80" cy="311.20" r="2.0" fill="#000" stroke="none" stroke-width="0"/>
<circle cx="451.20" cy="315.00" r="2.0" fill="#000" stroke="none" stroke-width="0"/>
<circle cx="446.50" cy="320.00" r="2.0" fill="#000" stroke="none" stroke-width="0"/>
<circle cx="451.20" cy="359.50" r="2.0" fill="#000" stroke="none" stroke-width="0"/>
<circle cx="448.50" cy="366.50" r="2.0" fill="#000" stroke="none" stroke-width="0"/>
<path d="M494.80,262.81 L496.90,266.89 L492.70,266.89 Z" fill="#000" stroke="none" stroke-width="0"/>
<path d="M495.50,277.31 L497.60,281.39 L493.40,281.39 Z" fill="#000" stroke="none" stroke-width="0"/>
<path d="M495.00,300.61 L497.10,304.69 L492.90,304.69 Z" fill="#000" stroke="none" stroke-width="0"/>
<path d="M492.80,306.81 L494.90,310.89 L490.70,310.89 Z" fill="#000" stroke="none" stroke-width="0"/>
<path d="M499.50,307.01 L501.60,311.09 L497.40,311.09 Z" fill="#000" stroke="none" stroke-width="0"/>
<path d="M496.50,316.01 L498.60,320.09 L494.40,320.09 Z" fill="#000" stroke="none" stroke-width="0"/>
<path d="M494.50,334.31 L496.60,338.39 L492.40,338.39 Z" fill="#000" stroke="none" stroke-width="0"/>
<path d="M493.80,354.61 L495.90,358.69 L491.70,358.69 Z" fill="#000" stroke="none" stroke-width="0"/>
<path d="M494.20,363.31 L496.30,367.39 L492.10,367.39 Z" fill="#000" stroke="none" stroke-width="0"/>
<line x1="333.10" y1="309.20" x2="367.80" y2="309.20" stroke="#000" stroke-width="1.8"/>
<line x1="383.00" y1="304.50" x2="417.80" y2="304.50" stroke="#000" stroke-width="1.8"/>
<line x1="432.40" y1="304.30" x2="467.50" y2="304.30" stroke="#000" stroke-width="1.8"/>
<line x1="476.20" y1="315.50" x2="510.80" y2="315.50" stroke="#000" stroke-width="1.8"/>
<text x="348.40" y="383.80" font-size="7.8" text-anchor="middle" fill="#333" stroke="#333" stroke-width="0.1">n=14</text>
<text x="401.80" y="383.80" font-size="7.8" text-anchor="middle" fill="#333" stroke="#333" stroke-width="0.1">n=13</text>
<text x="449.40" y="383.80" font-size="7.8" text-anchor="middle" fill="#333" stroke="#333" stroke-width="0.1">n=13</text>
<text x="494.60" y="383.80" font-size="7.8" text-anchor="middle" fill="#333" stroke="#333" stroke-width="0.1">n=9</text>
<text x="0.00" y="0.00" font-size="10.63" text-anchor="middle" fill="#000" transform="translate(290.50,313.10) rotate(-90)" stroke="#000" stroke-width="0.1">% of CELL DEATH</text>
<text x="0.00" y="0.00" font-size="8.94" text-anchor="middle" fill="#222" transform="translate(301.30,313.00) rotate(-90)" stroke="#222" stroke-width="0.1">(with respect to control)</text>
<path d="M326.50,393.00 L329.70,396.20 L326.50,399.40 L323.30,396.20 Z" fill="#000" stroke="none" stroke-width="0"/>
<text x="331.50" y="398.60" font-size="6.6" text-anchor="start" fill="#333" stroke="#333" stroke-width="0.1">Normal 17p/11q</text>
<path d="M389.50,393.10 L392.60,396.20 L389.50,399.30 L386.40,396.20 Z" fill="#000" stroke="none" stroke-width="0"/>
<path d="M389.50,394.80 L390.90,396.20 L389.50,397.60 L388.10,396.20 Z" fill="#fff" stroke="none" stroke-width="0"/>
<text x="395.00" y="398.60" font-size="6.6" text-anchor="start" fill="#333" stroke="#333" stroke-width="0.1">17p del</text>
<circle cx="432.30" cy="396.20" r="2.8" fill="#000" stroke="none" stroke-width="0"/>
<text x="437.00" y="398.60" font-size="6.6" text-anchor="start" fill="#333" stroke="#333" stroke-width="0.1">13q del</text>
<path d="M476.00,392.95 L479.50,399.55 L472.50,399.55 Z" fill="#000" stroke="none" stroke-width="0"/>
<path d="M476.00,395.56 L477.57,398.39 L474.43,398.39 Z" fill="#fff" stroke="none" stroke-width="0"/>
<text x="482.70" y="398.60" font-size="6.6" text-anchor="start" fill="#333" stroke="#333" stroke-width="0.1">11q del</text>
</svg>
</body></html>
